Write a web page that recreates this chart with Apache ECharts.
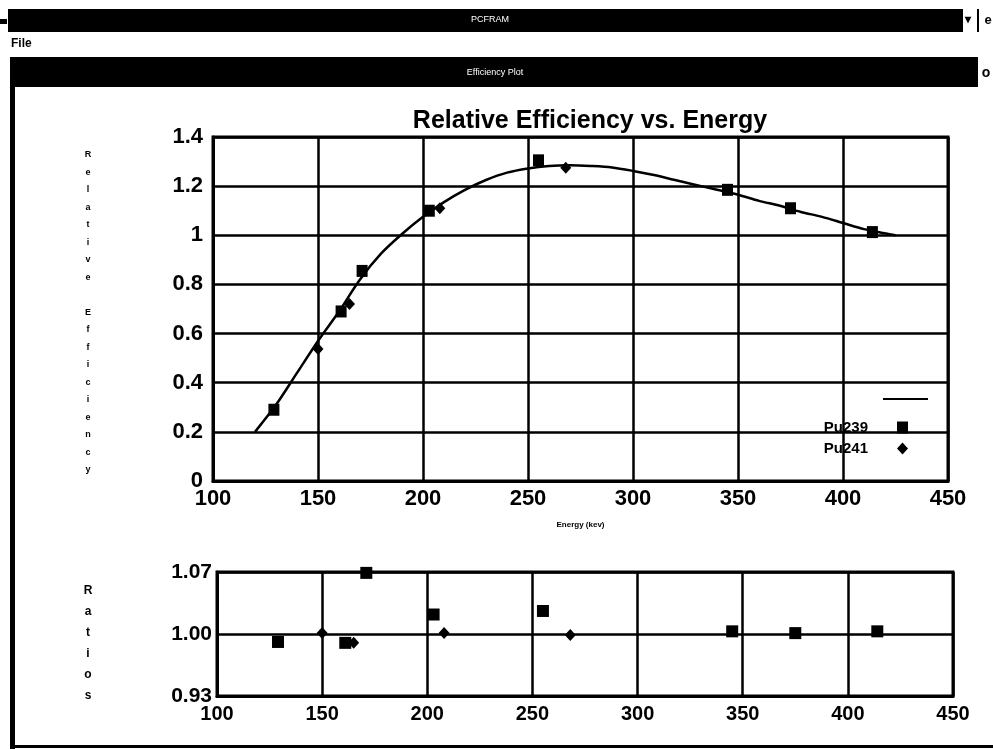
<!DOCTYPE html>
<html><head><meta charset="utf-8">
<script src="https://cdn.jsdelivr.net/npm/echarts@6/dist/echarts.min.js"></script>
<style>html,body{margin:0;padding:0;background:#fff}#c{width:993px;height:749px}</style>
</head><body><div id="c"></div>
<script>
// ---- data ----
const pu239Energy = [129, 161, 171, 203, 255, 345, 375, 414];
const pu239Eff    = [0.29, 0.69, 0.855, 1.10, 1.305, 1.185, 1.11, 1.013];
const pu239Ratio  = [0.991, 0.990, 1.069, 1.022, 1.026, 1.003, 1.001, 1.003];

const pu241Energy = [150, 165, 208, 268];
const pu241Eff    = [0.537, 0.72, 1.11, 1.275];
const pu241Ratio  = [1.001, 0.990, 1.001, 0.999];

const fitEnergy = [120, 130, 140, 150, 160, 170, 180, 190, 200, 210, 220, 230, 240, 250, 260, 270, 280, 290, 300, 310, 320, 330, 340, 350, 360, 370, 380, 390, 400, 410, 420, 425];
const fitEff    = [0.20, 0.31, 0.44, 0.57, 0.69, 0.82, 0.925, 1.005, 1.075, 1.135, 1.185, 1.225, 1.255, 1.272, 1.282, 1.285, 1.282, 1.276, 1.262, 1.245, 1.225, 1.205, 1.185, 1.165, 1.14, 1.12, 1.095, 1.075, 1.05, 1.025, 1.008, 1.0];

const effTicks   = {min: 0, max: 1.4, step: 0.2};
const ratioTicks = {min: 0.93, max: 1.07, step: 0.07};
const energyTicks = {min: 100, max: 450, step: 50};

const titleText = 'Relative Efficiency vs. Energy';
const yNameMain = 'Relative Efficiency';
const yNameRatio = 'Ratios';
const xName = 'Energy (kev)';

// ---- chart ----
const zip = (a, b) => a.map((v, i) => [v, b[i]]);
const FONT = '"Liberation Sans", Arial, sans-serif';
const lbl = (size) => ({color: '#000', fontFamily: FONT, fontWeight: 'bold', fontSize: size});
const mark = {color: '#000', opacity: 1};

const chart = echarts.init(document.getElementById('c'), null, {renderer: 'canvas'});

const xAxisBase = (gi, size, margin) => ({
  type: 'value', gridIndex: gi,
  min: energyTicks.min, max: energyTicks.max, interval: energyTicks.step,
  axisLine: {show: true, lineStyle: {color: '#000', width: 3}},
  axisTick: {show: false},
  splitLine: {show: true, lineStyle: {color: '#000', width: 2.5}},
  axisLabel: Object.assign(lbl(size), {margin: margin})
});

chart.setOption({
  backgroundColor: '#fff',
  animation: false,
  title: {
    text: titleText, left: 585, top: 104, textAlign: 'center',
    textStyle: {color: '#000', fontFamily: FONT, fontWeight: 'bold', fontSize: 25}
  },
  legend: [
    {
      data: ['Fit'], right: 60, top: 393, orient: 'vertical', align: 'left',
      icon: 'rect', itemWidth: 45, itemHeight: 2, formatter: () => '',
      itemStyle: {color: '#000', opacity: 1},
      textStyle: lbl(12)
    },
    {
      data: ['Pu239', 'Pu241'], right: 80, top: 415, orient: 'vertical', align: 'right',
      itemWidth: 11, itemHeight: 12, itemGap: 6,
      itemStyle: {color: '#000', opacity: 1},
      textStyle: Object.assign(lbl(15), {padding: [0, 24, 0, 0]})
    }
  ],
  grid: [
    {left: 213, top: 137, width: 735, height: 344, show: true, borderColor: '#000', borderWidth: 3, backgroundColor: '#fff'},
    {left: 217, top: 572, width: 736, height: 124, show: true, borderColor: '#000', borderWidth: 3, backgroundColor: '#fff'}
  ],
  xAxis: [
    Object.assign(xAxisBase(0, 22, 7), {name: xName, nameLocation: 'middle', nameGap: 40,
      nameTextStyle: {color: '#000', fontFamily: FONT, fontWeight: 'bold', fontSize: 8}}),
    xAxisBase(1, 20, 8)
  ],
  yAxis: [
    {
      type: 'value', gridIndex: 0, min: effTicks.min, max: effTicks.max, interval: effTicks.step,
      axisLine: {show: true, lineStyle: {color: '#000', width: 3}},
      axisTick: {show: false},
      splitLine: {show: true, lineStyle: {color: '#000', width: 2.5}},
      axisLabel: Object.assign(lbl(22), {margin: 10, formatter: v => String(+v.toFixed(1))})
    },
    {
      type: 'value', gridIndex: 1, min: ratioTicks.min, max: ratioTicks.max, interval: ratioTicks.step,
      axisLine: {show: true, lineStyle: {color: '#000', width: 3}},
      axisTick: {show: false},
      splitLine: {show: true, lineStyle: {color: '#000', width: 2.5}},
      axisLabel: Object.assign(lbl(21), {margin: 5, formatter: v => v.toFixed(2)})
    }
  ],
  series: [
    {
      name: 'Fit', type: 'line', xAxisIndex: 0, yAxisIndex: 0,
      data: zip(fitEnergy, fitEff), smooth: 0.3, symbol: 'none',
      lineStyle: {color: '#000', width: 2.5}, itemStyle: mark, z: 3
    },
    {
      name: 'Pu239', type: 'scatter', xAxisIndex: 0, yAxisIndex: 0,
      data: zip(pu239Energy, pu239Eff), symbol: 'rect', symbolSize: [11, 12],
      itemStyle: mark, z: 4
    },
    {
      name: 'Pu241', type: 'scatter', xAxisIndex: 0, yAxisIndex: 0,
      data: zip(pu241Energy, pu241Eff), symbol: 'diamond', symbolSize: [11, 12],
      itemStyle: mark, z: 4
    },
    {
      name: 'Pu239', type: 'scatter', xAxisIndex: 1, yAxisIndex: 1,
      data: zip(pu239Energy, pu239Ratio), symbol: 'rect', symbolSize: [12, 12],
      itemStyle: mark, z: 4
    },
    {
      name: 'Pu241', type: 'scatter', xAxisIndex: 1, yAxisIndex: 1,
      data: zip(pu241Energy, pu241Ratio), symbol: 'diamond', symbolSize: [11, 12],
      itemStyle: mark, z: 4
    }
  ],
  graphic: [
    // window chrome
    {type: 'rect', shape: {x: 8, y: 9, width: 955, height: 23}, style: {fill: '#000'}},
    {type: 'rect', shape: {x: 0, y: 19, width: 7, height: 5}, style: {fill: '#000'}},
    {type: 'text', x: 490, y: 20, style: {text: 'PCFRAM', fill: '#fff', font: '9px ' + FONT, textAlign: 'center', textVerticalAlign: 'middle'}},
    {type: 'text', x: 968, y: 20, style: {text: '▾', fill: '#000', font: 'bold 12px ' + FONT, textAlign: 'center', textVerticalAlign: 'middle'}},
    {type: 'rect', shape: {x: 977, y: 9, width: 2, height: 23}, style: {fill: '#000'}},
    {type: 'text', x: 988, y: 20, style: {text: 'e', fill: '#000', font: 'bold 13px ' + FONT, textAlign: 'center', textVerticalAlign: 'middle'}},
    {type: 'text', x: 11, y: 44, style: {text: 'File', fill: '#000', font: 'bold 12px ' + FONT, textAlign: 'left', textVerticalAlign: 'middle'}},
    {type: 'rect', shape: {x: 10, y: 57, width: 968, height: 30}, style: {fill: '#000'}},
    {type: 'text', x: 495, y: 73, style: {text: 'Efficiency Plot', fill: '#fff', font: '9px ' + FONT, textAlign: 'center', textVerticalAlign: 'middle'}},
    {type: 'text', x: 986, y: 73, style: {text: 'o', fill: '#000', font: 'bold 14px ' + FONT, textAlign: 'center', textVerticalAlign: 'middle'}},
    {type: 'rect', shape: {x: 10, y: 87, width: 5, height: 662}, style: {fill: '#000'}},
    {type: 'rect', shape: {x: 15, y: 745, width: 978, height: 3}, style: {fill: '#000'}},
    // vertical axis titles
    {type: 'text', x: 88, y: 146, style: {text: yNameMain.split('').join('\n'), fill: '#000', font: 'bold 9px ' + FONT, lineHeight: 17.5, textAlign: 'center'}},
    {type: 'text', x: 88, y: 580, style: {text: yNameRatio.split('').join('\n'), fill: '#000', font: 'bold 12px ' + FONT, lineHeight: 21, textAlign: 'center'}}
  ]
});
</script>
</body></html>
